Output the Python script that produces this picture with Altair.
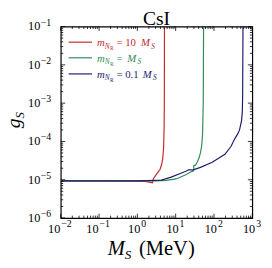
import altair as alt
import pandas as pd

# ---- data ----
red_x = [0.01, 0.1, 1.0, 1.6, 2.0, 2.5, 2.6, 3.0, 3.5, 3.9, 4.3, 4.6, 4.85, 5.0, 5.06, 5.1]
red_y = [9.3e-6, 9.3e-6, 9.2e-6, 9.0e-6, 8.7e-6, 8.3e-6, 1.05e-5, 1.3e-5, 1.6e-5, 1.85e-5, 2.5e-5, 3.6e-5, 7e-5, 2.5e-4, 1.1e-3, 0.1]

green_x = [0.01, 0.1, 1.0, 3.0, 5.7, 10.2, 18.4, 24.7, 29.5, 29.7, 33.0, 37.3, 41.0, 44.5, 48.0, 50.5, 52.5, 53.5]
green_y = [9.3e-6, 9.3e-6, 9.3e-6, 9.3e-6, 9.6e-6, 1.05e-5, 1.35e-5, 1.6e-5, 1.7e-5, 2.35e-5, 2.4e-5, 3.0e-5, 3.8e-5, 5.1e-5, 8e-5, 1.6e-4, 1.1e-3, 0.1]

blue_x = [0.01, 0.1, 1.0, 1.76, 4.25, 7.6, 13.7, 18.4, 21.9, 25.0, 27.6, 44.5, 90.0, 193.0, 280.0, 348.0, 420.0, 465.0, 525.0, 550.0, 560.0, 572.0]
blue_y = [9.3e-6, 9.3e-6, 9.3e-6, 9.5e-6, 9.8e-6, 1.17e-5, 1.48e-5, 1.66e-5, 1.82e-5, 1.82e-5, 1.78e-5, 2.1e-5, 2.85e-5, 4.6e-5, 7.5e-5, 1.17e-4, 1.6e-4, 2e-4, 3.5e-4, 6e-4, 1.5e-3, 0.1]

x_major = [1e-2, 1e-1, 1e0, 1e1, 1e2, 1e3]
y_major = [1e-6, 1e-5, 1e-4, 1e-3, 1e-2, 1e-1]
x_exponents = ["−2", "−1", "0", "1", "2", "3"]
y_exponents = ["−6", "−5", "−4", "−3", "−2", "−1"]
label_base = "10"

title_text = "CsI"
legend_factor = ["= 10", "=", "= 0.1"]
colors = ["#c8272d", "#2e8b57", "#1c1c6e"]

W = 196
H = 196
SERIF = "Liberation Serif"

xs = alt.Scale(type="log", domain=[1e-2, 1e3])
ys = alt.Scale(type="log", domain=[1e-6, 1e-1])

x_minor = [k * m for m in x_major[:-1] for k in range(2, 10)]
y_minor = [k * m for m in y_major[:-1] for k in range(2, 10)]


def curve(xv, yv, color):
    df = pd.DataFrame({"x": xv, "y": yv, "i": list(range(len(xv)))})
    return alt.Chart(df).mark_line(color=color, strokeWidth=1.2, clip=True).encode(
        x=alt.X("x:Q", scale=xs, axis=None),
        y=alt.Y("y:Q", scale=ys, axis=None),
        order="i:Q",
    )


def ticks_x(vals, length):
    df = pd.DataFrame({"x": vals})
    base = alt.Chart(df).mark_rule(color="black", strokeWidth=0.8)
    bot = base.encode(x=alt.X("x:Q", scale=xs, axis=None), y=alt.value(H), y2=alt.value(H - length))
    top = base.encode(x=alt.X("x:Q", scale=xs, axis=None), y=alt.value(0), y2=alt.value(length))
    return [bot, top]


def ticks_y(vals, length):
    df = pd.DataFrame({"y": vals})
    base = alt.Chart(df).mark_rule(color="black", strokeWidth=0.8)
    left = base.encode(y=alt.Y("y:Q", scale=ys, axis=None), x=alt.value(0), x2=alt.value(length))
    right = base.encode(y=alt.Y("y:Q", scale=ys, axis=None), x=alt.value(W), x2=alt.value(W - length))
    return [left, right]


def txt(s, x, y, size, color="black", italic=False, angle=0, align="left"):
    df = pd.DataFrame({"t": [s]})
    kw = dict(font=SERIF, fontSize=size, color=color, align=align, baseline="alphabetic")
    if italic:
        kw["fontStyle"] = "italic"
    if angle:
        kw["angle"] = angle
    return alt.Chart(df).mark_text(**kw).encode(text="t:N", x=alt.value(x), y=alt.value(y))


def x_labels(vals, exps, split_dx):
    df = pd.DataFrame({"v": vals, "e": exps, "b": [label_base] * len(vals)})
    base_t = alt.Chart(df).mark_text(font=SERIF, fontSize=12.5, color="black", align="right",
                                     baseline="alphabetic", dx=split_dx - 0.5).encode(
        x=alt.X("v:Q", scale=xs, axis=None), y=alt.value(211.5), text="b:N")
    exp_t = alt.Chart(df).mark_text(font=SERIF, fontSize=10, color="black", align="left",
                                    baseline="alphabetic", dx=split_dx + 0.5).encode(
        x=alt.X("v:Q", scale=xs, axis=None), y=alt.value(205.5), text="e:N")
    return [base_t, exp_t]


def y_labels(vals, exps):
    df = pd.DataFrame({"v": vals, "e": exps, "b": [label_base] * len(vals)})
    base_t = alt.Chart(df).mark_text(font=SERIF, fontSize=12.5, color="black", align="right",
                                     baseline="alphabetic", dy=4).encode(
        y=alt.Y("v:Q", scale=ys, axis=None), x=alt.value(-21), text="b:N")
    exp_t = alt.Chart(df).mark_text(font=SERIF, fontSize=10, color="black", align="left",
                                    baseline="alphabetic", dy=-1).encode(
        y=alt.Y("v:Q", scale=ys, axis=None), x=alt.value(-20.5), text="e:N")
    return [base_t, exp_t]


layers = []
layers.append(curve(red_x, red_y, colors[0]))
layers.append(curve(green_x, green_y, colors[1]))
layers.append(curve(blue_x, blue_y, colors[2]))
layers += ticks_x(x_major, 4.5) + ticks_x(x_minor, 2.5)
layers += ticks_y(y_major, 4.5) + ticks_y(y_minor, 2.5)

neg = [i for i, e in enumerate(x_exponents) if e.startswith("−")]
pos = [i for i, e in enumerate(x_exponents) if not e.startswith("−")]
layers += x_labels([x_major[i] for i in neg], [x_exponents[i] for i in neg], 0)
layers += x_labels([x_major[i] for i in pos], [x_exponents[i] for i in pos], 3.5)
layers += y_labels(y_major, y_exponents)

# legend
line_y = [16, 32, 48.5]
m_x = [82, 68, 84]
for k in range(3):
    ly = line_y[k]
    c = colors[k]
    ldf = pd.DataFrame({"a": [0]})
    layers.append(alt.Chart(ldf).mark_rule(color=c, strokeWidth=1.2).encode(
        x=alt.value(8), x2=alt.value(32), y=alt.value(ly)))
    layers.append(txt("m", 37, ly + 4, 11, c, italic=True))
    layers.append(txt("N", 45, ly + 6.5, 7.5, c, italic=True))
    layers.append(txt("R", 50.5, ly + 8, 5.5, c))
    layers.append(txt(legend_factor[k], 57, ly + 4, 11, c))
    layers.append(txt("M", m_x[k], ly + 4, 11, c, italic=True))
    layers.append(txt("S", m_x[k] + 10.5, ly + 6.5, 7.5, c, italic=True))

# title and axis titles
layers.append(txt(title_text, 98, -2, 20, align="center"))
layers.append(txt("M", 48, 234, 21, italic=True))
layers.append(txt("S", 65.5, 238, 13.5, italic=True))
layers.append(txt("(MeV)", 80, 234, 21))
layers.append(txt("g", -42, 104, 20, italic=True, angle=270))
layers.append(txt("S", -38, 94, 13, italic=True, angle=270))

chart = alt.layer(*layers).properties(
    width=W,
    height=H,
    padding={"left": 54, "top": 16, "right": 12, "bottom": 42},
    autosize=alt.AutoSizeParams(type="none"),
).configure_view(stroke="black", strokeWidth=1.2)

chart.save("out.html", embed_options={"renderer": "svg", "actions": False})
